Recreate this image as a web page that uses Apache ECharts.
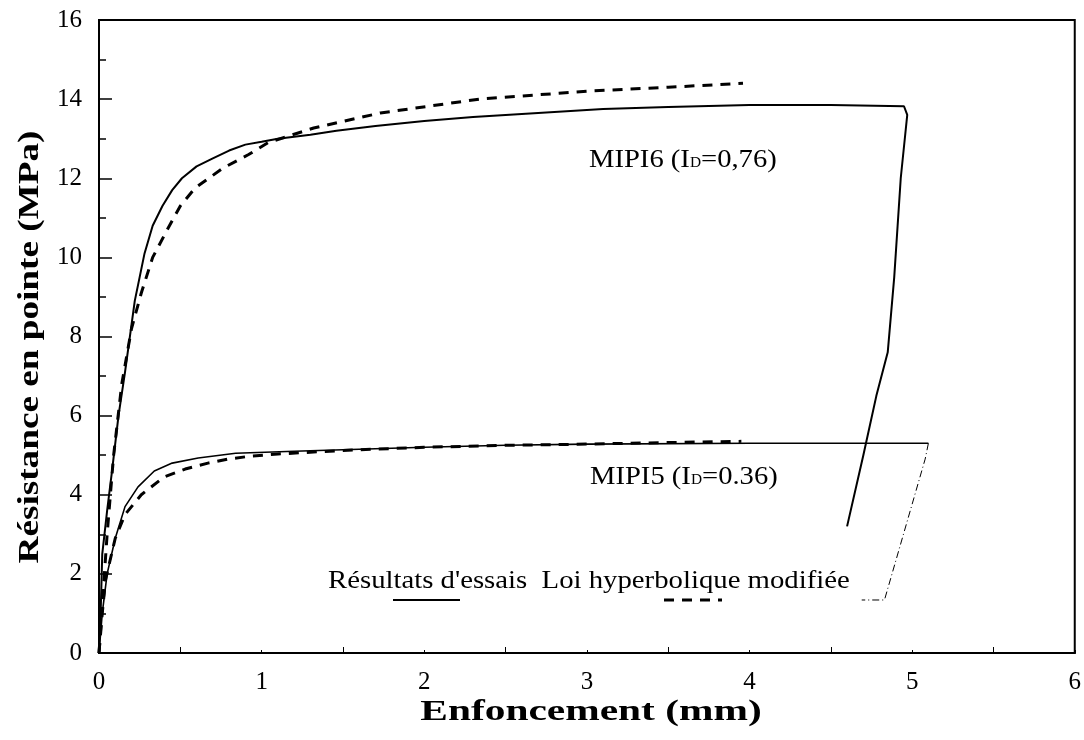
<!DOCTYPE html>
<html><head><meta charset="utf-8">
<script src="https://cdn.jsdelivr.net/npm/echarts@6/dist/echarts.min.js"></script>
<style>html,body{margin:0;padding:0;background:#fff}#c{width:1084px;height:740px}</style>
</head><body><div id="c"></div>
<script>
// Data (Enfoncement mm, Résistance MPa)
const mipi6Test = [[0,0],[0.01,1.0],[0.02,2.5],[0.05,3.6],[0.08,4.6],[0.12,6.0],[0.16,7.1],[0.2,8.3],[0.22,8.9],[0.28,10.1],[0.33,10.8],[0.39,11.3],[0.45,11.7],[0.51,12.0],[0.6,12.3],[0.7,12.5],[0.8,12.7],[0.9,12.85],[1.0,12.92],[1.1,13.0],[1.3,13.1],[1.46,13.2],[1.7,13.32],[2.0,13.45],[2.3,13.55],[2.7,13.65],[3.1,13.75],[3.5,13.8],[4.0,13.85],[4.5,13.85],[4.95,13.82],[4.97,13.6],[4.93,12.0],[4.89,9.5],[4.85,7.6],[4.78,6.5],[4.7,5.0],[4.6,3.2]];
const mipi6Model = [[0,0],[0.02,1.2],[0.05,3.0],[0.09,5.0],[0.14,6.8],[0.2,8.2],[0.26,9.1],[0.33,10.0],[0.42,10.7],[0.5,11.3],[0.59,11.75],[0.76,12.25],[0.92,12.6],[1.04,12.9],[1.32,13.27],[1.73,13.65],[2.34,14.0],[3.0,14.2],[3.5,14.3],[3.96,14.4]];
const mipi5Test = [[0,0],[0.02,1.0],[0.05,2.0],[0.1,2.9],[0.16,3.7],[0.24,4.2],[0.34,4.6],[0.45,4.8],[0.61,4.93],[0.84,5.05],[1.2,5.1],[1.6,5.15],[2.0,5.2],[2.5,5.25],[3.0,5.28],[4.0,5.3],[5.1,5.3]];
const mipi5Unload = [[5.1,5.3],[5.08,4.9],[4.83,1.34],[4.69,1.34]];
const mipi5Model = [[0,0],[0.02,1.0],[0.04,1.85],[0.1,2.9],[0.16,3.5],[0.26,4.0],[0.4,4.45],[0.53,4.65],[0.67,4.8],[0.79,4.9],[0.94,4.98],[1.1,5.03],[1.5,5.12],[2.0,5.2],[2.5,5.25],[3.0,5.28],[3.5,5.32],[3.95,5.35]];
const xTitle = 'Enfoncement (mm)';
const yTitle = 'Résistance en pointe (MPa)';

const FONT = 'Liberation Serif';
const chart = echarts.init(document.getElementById('c'), null, {renderer:'canvas'});
const solid = {type:'line', showSymbol:false, smooth:false, lineStyle:{color:'#000', width:2}, z:3};
const dashed = {type:'line', showSymbol:false, smooth:false, lineStyle:{color:'#000', width:3, type:[10,8]}, z:2};
const richLabel = {n:{fontFamily:FONT, fontSize:26, fill:'#000', lineHeight:30, verticalAlign:'bottom'}, s:{fontFamily:FONT, fontSize:14, fill:'#000', lineHeight:30, verticalAlign:'bottom', padding:[0,0,3,0]}};
chart.setOption({
  animation:false,
  backgroundColor:'#fff',
  grid:{left:99, right:6, top:20, bottom:87, show:true, borderColor:'#000', borderWidth:2, backgroundColor:'transparent'},
  xAxis:{type:'value', min:0, max:6, interval:1,
    axisLine:{show:true, onZero:false, lineStyle:{color:'#000', width:2}},
    axisTick:{show:true, inside:true, length:3, lineStyle:{color:'#000', width:1}},
    minorTick:{show:true, splitNumber:2, length:6, lineStyle:{color:'#000', width:1}},
    axisLabel:{fontFamily:FONT, fontSize:25, color:'#000', margin:17},
    splitLine:{show:false}},
  yAxis:{type:'value', min:0, max:16, interval:2,
    axisLine:{show:true, onZero:false, lineStyle:{color:'#000', width:2}},
    axisTick:{show:true, inside:true, length:13, lineStyle:{color:'#000', width:1.5}},
    minorTick:{show:true, splitNumber:2, length:7, lineStyle:{color:'#000', width:1.5}},
    axisLabel:{fontFamily:FONT, fontSize:25, color:'#000', margin:17},
    splitLine:{show:false}},
  series:[
    Object.assign({name:'MIPI6 essais', data:mipi6Test}, solid),
    Object.assign({name:'MIPI6 modèle', data:mipi6Model}, dashed),
    Object.assign({name:'MIPI5 essais', data:mipi5Test}, {type:'line', showSymbol:false, lineStyle:{color:'#000', width:1.6}, z:3}),
    Object.assign({name:'MIPI5 décharge', data:mipi5Unload}, {type:'line', showSymbol:false, lineStyle:{color:'#000', width:1, type:[7,3,1,3]}, z:3}),
    Object.assign({name:'MIPI5 modèle', data:mipi5Model}, dashed)
  ],
  graphic:[
    {type:'text', x:591, y:712, scaleX:1.38, style:{text:xTitle, fontFamily:FONT, fontSize:30, fontWeight:'bold', fill:'#000', align:'center', verticalAlign:'middle'}},
    {type:'text', x:30, y:347, rotation:Math.PI/2, scaleX:1.24, style:{text:yTitle, fontFamily:FONT, fontSize:30, fontWeight:'bold', fill:'#000', align:'center', verticalAlign:'middle'}},
    {type:'text', x:589, y:158, scaleX:1.1, style:{text:'{n|MIPI6 (I}{s|D}{n|=0,76)}', rich:richLabel, verticalAlign:'middle'}},
    {type:'text', x:590, y:475, scaleX:1.1, style:{text:'{n|MIPI5 (I}{s|D}{n|=0.36)}', rich:richLabel, verticalAlign:'middle'}},
    {type:'text', x:328, y:581, scaleX:1.15, style:{text:"Résultats d'essais  Loi hyperbolique modifiée", fontFamily:FONT, fontSize:25, fill:'#000', verticalAlign:'middle'}},
    {type:'line', shape:{x1:393, y1:600, x2:460, y2:600}, style:{stroke:'#000', lineWidth:2}},
    {type:'line', shape:{x1:664, y1:600, x2:722, y2:600}, style:{stroke:'#000', lineWidth:3, lineDash:[10,8]}}
  ]
});
</script></body></html>
